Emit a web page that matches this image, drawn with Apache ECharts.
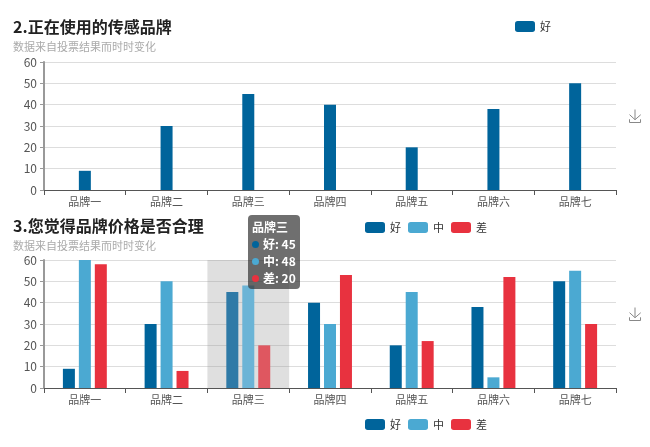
<!DOCTYPE html>
<html>
<head>
<meta charset="utf-8">
<script src="https://cdn.jsdelivr.net/npm/echarts@6/dist/echarts.min.js"></script>
<style>
html,body{margin:0;padding:0;background:#fff;}
#c1{position:absolute;left:0;top:0;width:650px;height:210px;}
#c2{position:absolute;left:0;top:210px;width:650px;height:237px;}
</style>
</head>
<body>
<div id="c1"></div>
<div id="c2"></div>
<script>
const categories = ['品牌一','品牌二','品牌三','品牌四','品牌五','品牌六','品牌七'];
const seriesNames = ['好','中','差'];
const good = [9, 30, 45, 40, 20, 38, 50];
const mid = [60, 50, 48, 30, 45, 5, 55];
const bad = [58, 8, 20, 53, 22, 52, 30];
const yTicks = [0, 10, 20, 30, 40, 50, 60];
const title1 = '2.正在使用的传感品牌';
const title2 = '3.您觉得品牌价格是否合理';
const subtitle = '数据来自投票结果而时时变化';
const highlightIndex = 2;

const colors = ['#00649b', '#4ba9d2', '#e8323f'];
const emphColors = ['#2f7aa7', '#6bb4d6', '#df5760'];
const FONT = '"Noto Sans CJK SC", "Noto Sans", sans-serif';

function baseTitle(text, top) {
  return {
    text: text, subtext: subtitle, left: 8, top: top, itemGap: 6,
    textStyle: {fontSize: 16, fontWeight: 'bold', color: '#222', fontFamily: FONT},
    subtextStyle: {fontSize: 11, color: '#aaa', fontFamily: FONT}
  };
}
function xAxisCfg() {
  return {
    type: 'category', data: categories,
    axisLine: {lineStyle: {color: '#555', width: 1}},
    axisTick: {show: true, length: 5, lineStyle: {color: '#555'}},
    axisLabel: {fontSize: 11, color: '#555', margin: 6, fontFamily: FONT}
  };
}
function yAxisCfg() {
  return {
    type: 'value', min: yTicks[0], max: yTicks[yTicks.length - 1], interval: yTicks[1] - yTicks[0],
    axisLine: {show: true, lineStyle: {color: '#999', width: 2}},
    axisTick: {show: true, length: 4, lineStyle: {color: '#999'}},
    axisLabel: {fontSize: 12, color: '#555', margin: 7, fontFamily: FONT},
    splitLine: {lineStyle: {color: '#ddd'}}
  };
}
function toolboxCfg(top) {
  return {
    show: true, left: 627, top: top, padding: 0, itemSize: 13,
    iconStyle: {borderColor: '#888'},
    feature: {saveAsImage: {show: true, title: ''}}
  };
}
function legendCfg(left, top, data) {
  return {
    left: left, top: top, data: data, itemWidth: 20, itemHeight: 11, itemGap: 7,
    textStyle: {fontSize: 11, color: '#333', fontFamily: FONT}
  };
}

const chart1 = echarts.init(document.getElementById('c1'));
chart1.setOption({
  animation: false,
  title: baseTitle(title1, 14),
  legend: legendCfg(510, 16, [seriesNames[0]]),
  toolbox: toolboxCfg(107),
  grid: {left: 44, right: 34, top: 62, height: 128},
  xAxis: xAxisCfg(),
  yAxis: yAxisCfg(),
  series: [{
    name: seriesNames[0], type: 'bar', data: good, barWidth: 12,
    itemStyle: {color: colors[0]}
  }]
});

const seriesData = [good, mid, bad];
const chart2 = echarts.init(document.getElementById('c2'));
chart2.setOption({
  animation: false,
  title: baseTitle(title2, 3),
  legend: [legendCfg(360, 7, seriesNames), legendCfg(360, 204, seriesNames)],
  toolbox: toolboxCfg(95),
  tooltip: {
    trigger: 'axis',
    axisPointer: {type: 'shadow', z: 0, shadowStyle: {color: 'rgba(150,150,150,0.3)'}},
    alwaysShowContent: true,
    transitionDuration: 0,
    position: [248, 5],
    backgroundColor: 'rgba(50,50,50,0.7)',
    borderWidth: 0,
    borderRadius: 4,
    padding: [3, 4],
    extraCssText: 'box-shadow:none;',
    formatter: function (params) {
      let html = '<div style="font-family:' + FONT.replace(/"/g, "'") + ';font-size:12px;font-weight:bold;color:#fff;line-height:17px;">';
      html += '<div>' + params[0].name + '</div>';
      params.forEach(function (p) {
        html += '<div><span style="display:inline-block;width:7px;height:7px;border-radius:50%;background:' + colors[p.seriesIndex] + ';margin-right:4px;vertical-align:1px;"></span>' + p.seriesName + ': ' + p.value + '</div>';
      });
      return html + '</div>';
    }
  },
  grid: {left: 44, right: 34, top: 50, height: 128},
  xAxis: xAxisCfg(),
  yAxis: yAxisCfg(),
  series: seriesNames.map(function (name, k) {
    return {
      name: name, type: 'bar', barWidth: 12, barGap: '33%', z: 3,
      itemStyle: {color: colors[k]},
      emphasis: {itemStyle: {color: emphColors[k]}},
      data: seriesData[k].map(function (v, i) {
        return i === highlightIndex ? {value: v, itemStyle: {color: emphColors[k]}} : v;
      })
    };
  })
});
chart2.dispatchAction({type: 'showTip', seriesIndex: 0, dataIndex: highlightIndex});
</script>
</body>
</html>
